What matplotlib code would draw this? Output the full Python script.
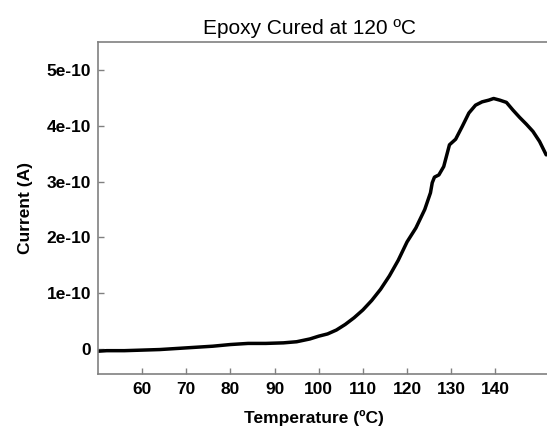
import matplotlib
matplotlib.use("Agg")
import matplotlib.pyplot as plt

# TSDC current trace for the epoxy sample
temp = [50, 52, 56, 60, 64, 68, 72, 76, 80, 84, 88, 92, 95, 98, 100,
        102, 104, 106, 108, 110, 112, 114, 116, 118, 120, 122, 124,
        125.3, 125.7, 126.2, 127.2, 128.3, 129.1, 129.6, 131, 132.5,
        134, 135.5, 137, 138.5, 139.6, 141, 142.5, 144, 145.5, 147,
        148.5, 150, 151.5]
current_e10 = [-0.04, -0.03, -0.03, -0.02, -0.01, 0.01, 0.03, 0.05, 0.08,
               0.10, 0.10, 0.11, 0.13, 0.18, 0.23, 0.27, 0.34, 0.44, 0.56,
               0.70, 0.87, 1.07, 1.31, 1.59, 1.92, 2.17, 2.50, 2.80, 2.98,
               3.08, 3.12, 3.27, 3.51, 3.66, 3.76, 3.99, 4.23, 4.37, 4.43,
               4.46, 4.49, 4.46, 4.42, 4.28, 4.15, 4.03, 3.90, 3.72, 3.48]

xticks = [60, 70, 80, 90, 100, 110, 120, 130, 140]
yticks = [0, 1e-10, 2e-10, 3e-10, 4e-10, 5e-10]
ytick_labels = ['0', '1e-10', '2e-10', '3e-10', '4e-10', '5e-10']

current = [v * 1e-10 for v in current_e10]

plt.rcParams['font.family'] = ['Liberation Sans', 'DejaVu Sans']

fig = plt.figure(figsize=(5.47, 4.30), dpi=100)
ax = fig.add_axes([0.179, 0.130, 0.83, 0.772])

ax.plot(temp, current, color='black', linewidth=2.5,
        solid_joinstyle='round', solid_capstyle='round')

ax.set_xlim(50, 152.8)
ax.set_ylim(-0.45e-10, 5.5e-10)

ax.set_xticks(xticks)
ax.set_xticklabels([str(t) for t in xticks], fontweight='bold', fontsize=12.5)
ax.set_yticks(yticks)
ax.set_yticklabels(ytick_labels, fontweight='bold', fontsize=12.5)
ax.tick_params(direction='in', length=4, width=1, color='#808080')
ax.tick_params(axis='y', pad=5)
ax.tick_params(axis='x', pad=6)

for side in ['left', 'bottom', 'top', 'right']:
    ax.spines[side].set_color('#808080')
    ax.spines[side].set_linewidth(1.2)

ax.set_title('Epoxy Cured at 120 \u00baC', fontsize=15, pad=6, x=0.467)
ax.set_xlabel('Temperature (\u00baC)', fontweight='bold', fontsize=12.5,
              labelpad=9, x=0.475)
ax.set_ylabel('Current (A)', fontweight='bold', fontsize=12.5, labelpad=10)

fig.savefig('out.png', dpi=100)
